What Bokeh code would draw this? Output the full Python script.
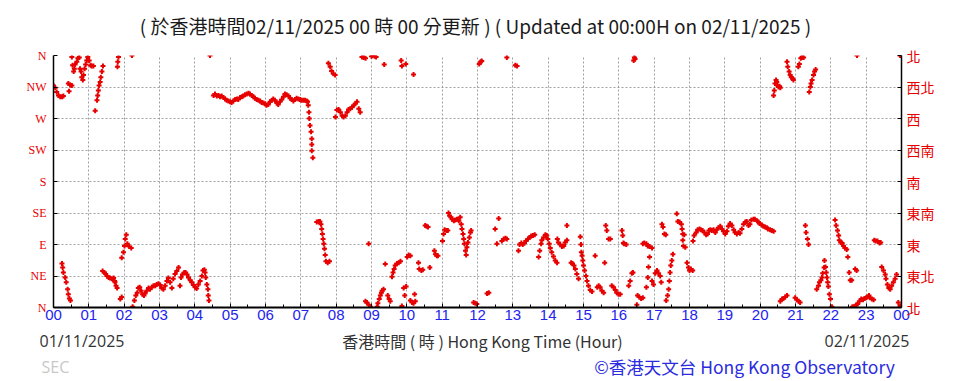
from bokeh.plotting import figure
from bokeh.layouts import column
from bokeh.models import Range1d, LinearAxis, FixedTicker, Label, ColumnDataSource
from bokeh.embed import file_html
from bokeh.resources import INLINE

# ---- axis / tick texts ----
hour_ticks = list(range(25))
hour_labels = ["00", "01", "02", "03", "04", "05", "06", "07", "08", "09", "10", "11",
               "12", "13", "14", "15", "16", "17", "18", "19", "20", "21", "22", "23", "00"]
dir_ticks = [0, 45, 90, 135, 180, 225, 270, 315, 360]
dir_labels_en = ["N", "NE", "E", "SE", "S", "SW", "W", "NW", "N"]
dir_labels_zh = ["北", "東北", "東", "東南", "南", "西南", "西", "西北", "北"]

# ---- wind direction readings (hour of day, degrees) ----
hours_a = [0.00, 0.05, 0.09, 0.14, 0.19, 0.24, 0.28, 0.42, 0.47, 0.52, 0.44, 0.52, 0.54, 0.57, 0.59,
           0.61, 0.66, 0.69, 0.73, 0.75, 0.78, 0.80, 0.83, 0.85, 0.88, 0.91, 0.94, 0.97, 1.01, 1.05,
           1.08, 1.13, 1.18, 1.23, 1.25, 1.27, 1.29, 1.32, 1.34, 1.37, 1.40, 1.81, 1.82, 1.84, 2.22,
           4.43,
           0.24, 0.26, 0.28, 0.33, 0.36, 0.40, 0.42, 0.45, 0.48, 1.39, 1.44, 1.48, 1.51, 1.56, 1.60,
           1.65, 1.70, 1.73, 1.74, 1.77, 1.80, 1.89, 1.93, 1.93, 1.98, 2.01, 2.03, 2.06, 2.09, 2.14,
           2.20, 2.24, 2.29, 2.33, 2.37, 2.40, 2.44, 2.48, 2.52, 2.56, 2.59, 2.64, 2.69, 2.73, 2.78,
           2.83, 2.88, 2.92, 2.97, 3.02, 3.06, 3.11, 3.16, 3.21, 3.25, 3.30, 3.35, 3.39, 3.44, 3.49,
           3.54, 3.58, 3.61, 3.65, 3.70, 3.74, 3.78, 3.82, 3.87, 3.91, 3.96, 4.01, 4.05, 4.10, 4.15,
           4.20, 4.23, 4.27, 4.29, 4.31, 4.34, 4.37, 4.38, 4.40]
dirs_a = [317, 314, 308, 303, 301, 301, 302, 320, 318, 317, 309, 358, 346, 337, 341,
          347, 351, 356, 357, 341, 337, 329, 325, 332, 341, 347, 353, 358, 353, 346,
          345, 345, 281, 296, 303, 310, 317, 322, 329, 337, 345, 344, 351, 358, 360,
          360,
          63, 57, 50, 43, 36, 26, 19, 13, 10, 52, 50, 48, 45, 43, 42,
          41, 42, 38, 36, 31, 28, 12, 15, 71, 79, 88, 98, 104, 91, 87,
          85, 1, 10, 17, 21, 28, 29, 24, 19, 17, 20, 24, 28, 26, 29,
          31, 31, 33, 34, 32, 28, 26, 31, 38, 42, 36, 28, 41, 48, 52,
          57, 31, 43, 47, 50, 50, 47, 43, 39, 36, 32, 29, 27, 33, 38,
          45, 53, 54, 50, 43, 33, 26, 17, 10]

hours_b = [4.53, 4.57, 4.62, 4.67, 4.71, 4.76, 4.81, 4.86, 4.90, 4.95, 5.00, 5.04, 5.09, 5.14, 5.19,
           5.23, 5.28, 5.33, 5.37, 5.42, 5.47, 5.52, 5.56, 5.61, 5.66, 5.70, 5.75, 5.80, 5.85, 5.89,
           5.94, 5.99, 6.03, 6.08, 6.13, 6.18, 6.22, 6.27, 6.32, 6.36, 6.41, 6.46, 6.51, 6.55, 6.60,
           6.65, 6.70, 6.74, 6.79, 6.84, 6.88, 6.93, 6.98, 7.02, 7.07, 7.12, 7.17, 7.19, 7.21, 7.23,
           7.24, 7.26, 7.29, 7.31, 7.31, 7.31, 7.34,
           7.45, 7.50, 7.54, 7.57, 7.59, 7.61, 7.63, 7.65, 7.67, 7.69, 7.71, 7.76, 7.81,
           7.78, 7.83, 7.87, 7.92, 7.97,
           7.98, 8.02, 8.07, 8.12, 8.17, 8.21, 8.26, 8.31, 8.35, 8.40, 8.45, 8.50, 8.54, 8.59, 8.64,
           8.68, 8.73, 8.78, 8.83]
dirs_b = [303, 305, 302, 303, 301, 302, 300, 298, 296, 295, 294, 293, 295, 297, 298,
          297, 300, 301, 302, 304, 305, 306, 305, 303, 301, 299, 297, 296, 295, 293,
          292, 291, 289, 290, 294, 296, 298, 296, 292, 290, 294, 297, 301, 305, 304,
          302, 299, 297, 295, 297, 299, 298, 297, 296, 296, 296, 295, 294, 289, 279,
          270, 260, 251, 241, 233, 224, 214,
          122, 123, 123, 119, 112, 105, 98, 91, 84, 75, 66, 64, 66,
          349, 344, 338, 334, 332,
          272, 282, 283, 279, 274, 272, 274, 279, 283, 284, 286, 289, 291, 294, 284,
          279, 358, 357, 356]

hours_c = [9.00, 9.03, 9.09, 9.13, 9.36, 9.84, 9.86, 9.97, 10.19, 12.05, 12.09, 12.12, 12.83,
           8.92, 8.83, 8.87, 8.92, 8.97, 9.16, 9.18, 9.22, 9.25, 9.28, 9.30, 9.34, 9.39, 9.46, 9.50,
           9.53, 9.58, 9.61, 9.64, 9.67, 9.72, 9.77, 9.82, 9.86, 9.91, 9.94, 9.98, 10.01, 10.05,
           10.10, 10.10, 10.15, 10.19, 10.24, 10.22, 10.33, 10.35, 10.41, 10.45, 10.52, 10.56, 10.60,
           10.65, 10.78, 10.81, 10.85, 10.88, 11.01, 11.04, 11.07, 11.12, 11.16, 11.18, 11.21, 11.25,
           11.28, 11.33, 11.37, 11.42, 11.47, 11.51, 11.54, 11.56, 11.59, 11.61, 11.63, 11.66, 11.68,
           11.70, 11.73, 11.77, 11.80, 11.82, 11.89, 11.94, 11.98, 12.27, 12.32, 12.50, 12.55, 12.60,
           12.69, 12.74, 12.79, 12.83]
dirs_c = [359, 360, 359, 358, 347, 353, 345, 348, 333, 348, 351, 352, 357,
          91, 9, 7, 4, 1, 1, 6, 12, 17, 21, 24, 26, 62, 17, 12,
          9, 44, 50, 55, 60, 63, 64, 66, 2, 28, 17, 30, 72, 75,
          74, 10, 7, 6, 9, 19, 64, 55, 53, 54, 117, 116, 115,
          57, 81, 76, 74, 74, 95, 105, 111, 110, 110, 135, 131, 129,
          126, 124, 125, 126, 124, 129, 119, 112, 105, 98, 91, 81, 75,
          86, 93, 100, 107, 110, 7, 6, 5, 20, 21, 112, 91, 127,
          95, 98, 99, 98]

hours_d = [13.07, 13.12, 16.42, 16.44, 16.46,
           13.16, 13.19, 13.24, 13.28, 13.33, 13.37, 13.43, 13.47, 13.52, 13.57, 13.62, 13.73, 13.76,
           13.80, 13.82, 13.87, 13.92, 13.96, 13.99, 14.03, 14.06, 14.10, 14.15, 14.20, 14.25, 14.26,
           14.29, 14.34, 14.39, 14.44, 14.48, 14.53, 14.53, 14.65, 14.69, 14.73, 14.77, 14.81, 14.86,
           14.91, 14.93, 14.94, 14.96, 14.98, 15.00, 15.03, 15.07, 15.10, 15.14, 15.19, 15.24, 15.33,
           15.39, 15.43, 15.47, 15.52, 15.57, 15.60, 15.63, 15.66, 15.71, 15.76, 15.80, 15.85, 15.90,
           15.94, 15.99, 16.09, 16.11, 16.13, 16.15, 16.21, 16.04, 16.28, 16.32, 16.37, 16.40, 16.51,
           16.53, 16.58, 16.63, 16.68, 16.68, 16.72, 16.78, 16.82, 16.87, 16.94, 16.78, 16.82, 16.84,
           16.87, 16.94, 16.98]
dirs_d = [346, 345, 353, 357, 355,
          81, 90, 92, 90, 92, 95, 98, 100, 102, 103, 104, 72, 81,
          91, 96, 100, 104, 103, 98, 91, 85, 79, 73, 67, 64, 98,
          93, 90, 87, 88, 93, 96, 117, 64, 63, 60, 55, 48, 41,
          101, 90, 79, 74, 67, 60, 53, 45, 38, 31, 25, 23, 74,
          29, 31, 29, 24, 21, 64, 117, 110, 98, 98, 31, 29, 25,
          21, 19, 110, 103, 92, 91, 90, 19, 31, 38, 49, 50, 4,
          17, 15, 13, 14, 91, 92, 91, 88, 87, 85, 29, 43, 58,
          72, 38, 33]

hours_e = [17.03, 17.08, 17.12, 17.17, 17.20, 17.22, 17.25, 17.29, 17.33, 17.34, 17.38, 17.41, 17.43,
           17.45, 17.47, 17.50, 17.53, 17.64, 17.67, 17.72, 17.77, 17.79, 17.81, 17.85, 17.81, 17.83,
           17.88, 17.93, 17.97, 18.00, 18.04, 18.09,
           18.10, 18.13, 18.19, 18.23, 18.28, 18.32, 18.37, 18.42, 18.47, 18.51, 18.55, 18.59, 18.63,
           18.68, 18.73, 18.77, 18.82, 18.87, 18.92, 18.96, 19.01, 19.06, 19.10, 19.15, 19.20, 19.25,
           19.29, 19.34, 19.39, 19.43, 19.48, 19.53, 19.58, 19.62, 19.67, 19.71, 19.75, 19.81, 19.85,
           19.91, 19.95, 19.98, 20.05, 20.09, 20.14, 20.19, 20.22, 20.28, 20.33, 20.38]
dirs_e = [49, 53, 49, 45, 36, 119, 115, 105, 104, 10, 17, 26, 38,
          50, 60, 67, 76, 134, 123, 122, 119, 112, 105, 104, 96, 88,
          86, 64, 57, 53, 55, 53,
          95, 103, 107, 111, 112, 111, 110, 107, 104, 105, 110, 111, 110,
          111, 107, 111, 114, 116, 112, 109, 105, 109, 116, 120, 117, 111,
          107, 105, 107, 106, 112, 119, 122, 123, 117, 119, 125, 126, 126,
          124, 122, 120, 118, 116, 115, 114, 112, 111, 110, 109]

hours_f = [20.38, 20.40, 20.42, 20.45, 20.47, 20.49, 20.52, 20.55, 20.57, 20.76, 20.78, 20.82, 20.85,
           20.88, 20.92, 20.94, 21.08, 21.11, 21.15, 21.18, 21.23, 21.39, 21.42, 21.44, 21.47, 21.51,
           21.54, 21.57, 22.74, 23.96,
           20.57, 20.62, 20.66, 20.71, 20.76, 20.99, 21.04, 21.09, 21.13, 21.28, 21.30, 21.34, 21.37,
           21.60, 21.65, 21.68, 21.72, 21.75, 21.77, 21.81, 21.82, 21.85, 21.87, 21.89, 21.91, 21.93,
           21.96, 21.99, 22.03, 22.12, 22.15, 22.19, 22.22, 22.24, 22.28, 22.32, 22.36, 22.40, 22.45,
           22.48, 22.52, 22.55, 22.59, 22.69, 22.73, 22.61, 22.66, 22.72, 22.76, 22.81, 22.86, 22.91,
           22.95, 23.00, 23.04, 23.08, 23.11, 23.16, 23.21, 23.23, 23.27, 23.32, 23.38, 23.41, 23.44,
           23.49, 23.54, 23.56, 23.60, 23.64, 23.68, 23.72, 23.77, 23.82, 23.86, 23.91, 23.96, 24.00]
dirs_f = [303, 310, 320, 325, 322, 317, 315, 316, 314, 351, 344, 337, 332,
          329, 327, 325, 344, 348, 356, 357, 357, 308, 315, 320, 325, 332,
          337, 340, 360, 360,
          9, 12, 13, 15, 17, 14, 11, 9, 7, 117, 107, 98, 90,
          26, 31, 36, 39, 43, 49, 57, 67, 58, 50, 43, 36, 30,
          19, 12, 1, 125, 117, 110, 103, 96, 93, 92, 88, 85, 83,
          72, 50, 39, 39, 55, 53, 1, 1, 4, 5, 9, 12, 11,
          13, 14, 15, 17, 14, 12, 11, 96, 95, 95, 92, 93, 58,
          53, 47, 41, 33, 28, 26, 31, 36, 41, 47, 7, 2, 1]

hours = hours_a + hours_b + hours_c + hours_d + hours_e + hours_f
dirs = dirs_a + dirs_b + dirs_c + dirs_d + dirs_e + dirs_f
src = ColumnDataSource(data=dict(hour=hours, dir=dirs))

RED = "#e60000"
BLUE = "#2323ee"

W = 960
TOP_H = 40          # title strip: page y 0..40
MAIN_BOTTOM = 329   # main chart strip: page y 40..329
BOT_END = 378       # footer strip: page y 329..378
FL, FT, FR, FB = 53, 55, 901, 307   # plot frame edges on the page


def strip(y0, y1):
    f = figure(width=W, height=y1 - y0, x_range=Range1d(0, W), y_range=Range1d(y1, y0),
               output_backend="svg", toolbar_location=None, x_axis_type=None, y_axis_type=None,
               min_border=0, min_border_left=0, min_border_right=0,
               min_border_top=0, min_border_bottom=0, frame_align=False)
    f.outline_line_color = None
    f.background_fill_color = "white"
    f.border_fill_color = "white"
    return f


def lab(f, text, x, y, size, color, align="left", font="Noto Sans CJK TC"):
    f.add_layout(Label(x=x, y=y, text=text, text_font=font, text_font_size=size,
                       text_color=color, text_align=align, text_baseline="middle"))


top = strip(0, TOP_H)
lab(top, "( 於香港時間02/11/2025 00 時 00 分更新 ) ( Updated at 00:00H on 02/11/2025 )",
    475, 25, "19px", "#1a1a1a", align="center")

p = figure(width=W, height=MAIN_BOTTOM - TOP_H, x_range=Range1d(0, 24), y_range=Range1d(0, 360),
           output_backend="svg", toolbar_location=None, frame_align=False,
           min_border_left=FL, min_border_right=W - FR,
           min_border_top=FT - TOP_H, min_border_bottom=MAIN_BOTTOM - FB)
p.outline_line_color = None
p.background_fill_color = "white"
p.border_fill_color = "white"

p.scatter("hour", "dir", source=src, marker="cross", size=5, line_width=2,
          line_color=RED, fill_color=RED)

# grids
p.xgrid.ticker = FixedTicker(ticks=hour_ticks)
p.ygrid.ticker = FixedTicker(ticks=dir_ticks)
for g in (p.xgrid, p.ygrid):
    g.grid_line_color = "#a0a0a0"
    g.grid_line_dash = "2 2"
    g.grid_line_width = 1

# bottom axis
xa = p.xaxis[0]
xa.ticker = FixedTicker(ticks=hour_ticks, minor_ticks=[h + 0.5 for h in hour_ticks[:-1]])
xa.major_label_overrides = {t: l for t, l in zip(hour_ticks, hour_labels)}
xa.major_label_text_color = BLUE
xa.major_label_text_font = "Liberation Sans"
xa.major_label_text_font_size = "15px"
xa.major_label_standoff = 2
xa.axis_line_color = "black"
xa.axis_line_width = 2
xa.major_tick_in = 4
xa.major_tick_out = 0
xa.minor_tick_in = 3
xa.minor_tick_out = 0
xa.major_tick_line_color = "black"
xa.minor_tick_line_color = "black"

# left axis
ya = p.yaxis[0]
ya.ticker = FixedTicker(ticks=dir_ticks)
ya.major_label_overrides = {t: l for t, l in zip(dir_ticks, dir_labels_en)}
ya.major_label_text_color = RED
ya.major_label_text_font = "Liberation Serif"
ya.major_label_text_font_size = "12px"
ya.major_label_standoff = 7
ya.axis_line_color = "black"
ya.axis_line_width = 1.5
ya.major_tick_in = 4
ya.major_tick_out = 0
ya.minor_tick_line_color = None

# right axis
ra = LinearAxis(ticker=FixedTicker(ticks=dir_ticks),
                major_label_overrides={t: l for t, l in zip(dir_ticks, dir_labels_zh)})
ra.major_label_text_color = RED
ra.major_label_text_font = "Noto Sans CJK TC"
ra.major_label_text_font_size = "14px"
ra.major_label_standoff = 5
ra.axis_line_color = "black"
ra.axis_line_width = 1.5
ra.major_tick_in = 4
ra.major_tick_out = 0
ra.minor_tick_line_color = None
p.add_layout(ra, "right")

bot = strip(MAIN_BOTTOM, BOT_END)
lab(bot, "01/11/2025", 39, 340, "16px", "#333333", font="Open Sans")
lab(bot, "香港時間 ( 時 ) Hong Kong Time (Hour)", 482, 340, "16px", "#333333", align="center")
lab(bot, "02/11/2025", 909, 340, "16px", "#333333", align="right", font="Open Sans")
lab(bot, "©香港天文台 Hong Kong Observatory", 744, 366, "17.5px", "#2b2be0", align="center")
lab(bot, "SEC", 41, 366, "16px", "#c8c8c8", font="Open Sans")

layout = column(top, p, bot, spacing=0)
open("out.html", "w").write(file_html(layout, INLINE))
